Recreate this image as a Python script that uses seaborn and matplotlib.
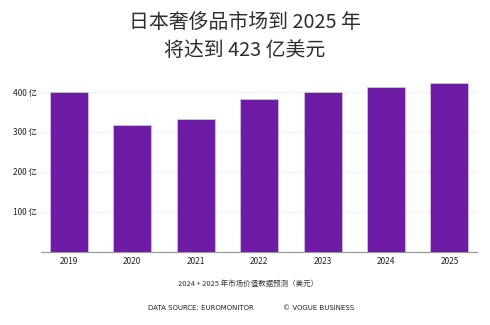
import matplotlib
matplotlib.use("Agg")
import matplotlib.pyplot as plt
import seaborn as sns
import pandas as pd

years = ["2019", "2020", "2021", "2022", "2023", "2024", "2025"]
market_value = [400, 317, 333, 382, 400, 412, 423]  # 亿美元
y_ticks = [100, 200, 300, 400]
y_tick_labels = ["100 亿", "200 亿", "300 亿", "400 亿"]

title_lines = ["日本奢侈品市场到 2025 年", "将达到 423 亿美元"]
note = "2024 + 2025 年市场价值数据预测（美元）"
source = "DATA SOURCE: EUROMONITOR"
credit = "© VOGUE BUSINESS"

sns.set_style("white")
plt.rcParams["font.family"] = ["Noto Sans CJK SC", "DejaVu Sans"]

df = pd.DataFrame({"year": years, "value": market_value})

W, H = 490, 325
fig = plt.figure(figsize=(W / 100, H / 100), dpi=100)
ax = fig.add_axes([41 / W, 1 - 251.7 / H, (476.7 - 41) / W, (251.7 - 80) / H])

sns.barplot(data=df, x="year", y="value", color="#6E1BA6", saturation=1,
            width=0.6, edgecolor="#d9c7e6", linewidth=0.5, ax=ax, zorder=3)

ax.set_xlim(-0.44, 6.43)
ax.set_ylim(0, 400 * (251.7 - 80) / (251.7 - 92))
ax.set_yticks(y_ticks)
ax.set_yticklabels(y_tick_labels)
ax.yaxis.grid(True, color="#f0f0f0", linewidth=0.8, zorder=0)
ax.set_axisbelow(True)
ax.set_xlabel("")
ax.set_ylabel("")
ax.tick_params(axis="both", length=0, labelsize=6, colors="#222222")
ax.tick_params(axis="y", pad=3)
ax.tick_params(axis="x", pad=4)
for s in ["top", "right", "left"]:
    ax.spines[s].set_visible(False)
ax.spines["bottom"].set_color("#999999")
ax.spines["bottom"].set_linewidth(0.9)

for line, y in zip(title_lines, [22, 50]):
    fig.text(0.5, 1 - y / H, line, ha="center", va="center",
             fontsize=14.3, color="#2e2e2e", fontweight="medium")
fig.text(248 / W, 1 - 284 / H, note, ha="center", va="center", fontsize=5.4,
         color="#333333")
fig.text(201 / W, 1 - 308 / H, source, ha="center", va="center", fontsize=5,
         color="#222222", family=["Liberation Sans Narrow", "DejaVu Sans"])
fig.text(319 / W, 1 - 308 / H, credit, ha="center", va="center", fontsize=5,
         color="#222222", family=["Liberation Sans Narrow", "DejaVu Sans"])

fig.savefig("out.png", dpi=100)
